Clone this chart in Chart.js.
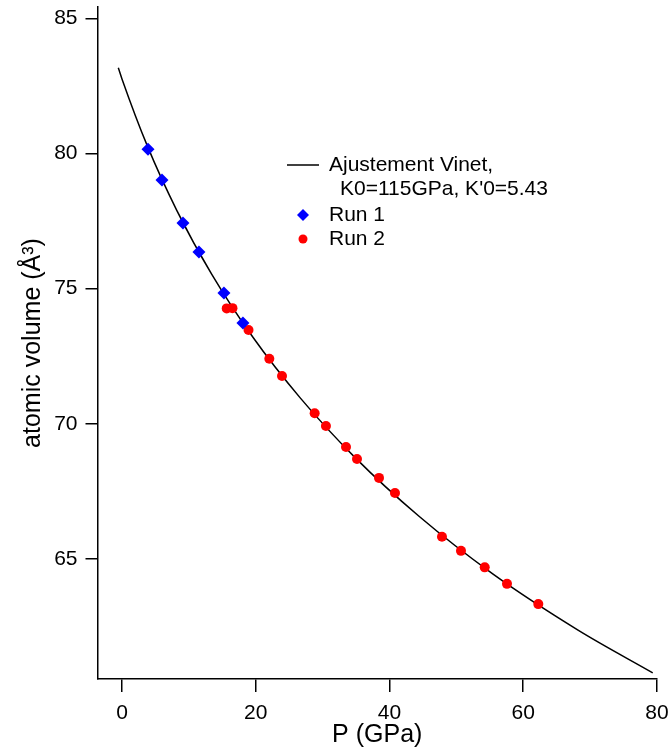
<!DOCTYPE html>
<html lang="fr">
<head>
<meta charset="UTF-8">
<title>Volume atomique en fonction de la pression</title>
<script src="https://cdn.jsdelivr.net/npm/chart.js"></script>
<style>
    body { margin: 0; background: #fff; }
    canvas { display: block; }
</style>
</head>
<body>
<canvas id="eosChart" width="671" height="756"></canvas>
<script>
// Run 1 (blue diamonds)
const run1P = [3.89, 5.98, 9.12, 11.51, 15.25, 18.09];
const run1V = [80.16, 79.02, 77.43, 76.36, 74.84, 73.73];

// Run 2 (red dots)
const run2P = [15.66, 16.52, 18.92, 22.03, 23.93, 28.81, 30.50, 33.50, 35.14, 38.43, 40.82, 47.85, 50.69, 54.24, 57.57, 62.25];
const run2V = [74.27, 74.28, 73.47, 72.41, 71.77, 70.39, 69.92, 69.14, 68.70, 68.00, 67.44, 65.82, 65.30, 64.69, 64.08, 63.33];

// Vinet fit curve
const fitP = [-0.55, 0, 3.76, 8.21, 13.43, 19.53, 26.65, 34.90, 44.46, 55.49, 68.19, 79.36];
const fitV = [83.17, 82.76, 80.30, 77.89, 75.53, 73.22, 70.96, 68.74, 66.57, 64.44, 62.37, 60.79];

const fitLabel = ['Ajustement Vinet,', "K0=115GPa, K'0=5.43"];
const xTitle = 'P (GPa)';
const yTitle = 'atomic volume (Å³)';

const toXY = (xs, ys) => xs.map((x, i) => ({ x: x, y: ys[i] }));

const FONT = 'Arial, "Liberation Sans", Helvetica, sans-serif';
Chart.defaults.font.family = FONT;
Chart.defaults.color = '#000';

// legend drawn inside the plot, like the original
const legendBox = {
    id: 'legendBox',
    afterDraw(chart) {
        const ctx = chart.ctx;
        ctx.save();
        ctx.font = '21px ' + FONT;
        ctx.fillStyle = '#000';
        ctx.textBaseline = 'middle';
        ctx.textAlign = 'left';

        ctx.strokeStyle = '#000';
        ctx.lineWidth = 1.5;
        ctx.beginPath();
        ctx.moveTo(287, 165);
        ctx.lineTo(319, 165);
        ctx.stroke();
        ctx.fillText(fitLabel[0], 329, 165);
        ctx.fillText(fitLabel[1], 340, 189);

        // diamond
        ctx.fillStyle = '#0000ff';
        ctx.beginPath();
        ctx.moveTo(303, 209);
        ctx.lineTo(309, 215);
        ctx.lineTo(303, 221);
        ctx.lineTo(297, 215);
        ctx.closePath();
        ctx.fill();
        ctx.fillStyle = '#000';
        ctx.fillText(chart.data.datasets[0].label, 329, 215);

        // dot
        ctx.fillStyle = '#ff0000';
        ctx.beginPath();
        ctx.arc(303, 239, 4.5, 0, Math.PI * 2);
        ctx.fill();
        ctx.fillStyle = '#000';
        ctx.fillText(chart.data.datasets[1].label, 329, 239);
        ctx.restore();
    }
};

const ctx = document.getElementById('eosChart').getContext('2d');
new Chart(ctx, {
    type: 'scatter',
    data: {
        datasets: [
            {
                label: 'Run 1',
                data: toXY(run1P, run1V),
                pointStyle: 'rectRot',
                pointRadius: 6.5,
                pointBorderWidth: 0,
                backgroundColor: '#0000ff',
                borderColor: '#0000ff'
            },
            {
                label: 'Run 2',
                data: toXY(run2P, run2V),
                pointStyle: 'circle',
                pointRadius: 5,
                pointBorderWidth: 0,
                backgroundColor: '#ff0000',
                borderColor: '#ff0000'
            },
            {
                label: fitLabel.join(' '),
                data: toXY(fitP, fitV),
                showLine: true,
                pointRadius: 0,
                borderColor: '#000',
                borderWidth: 1.5,
                cubicInterpolationMode: 'monotone'
            }
        ]
    },
    options: {
        responsive: false,
        animation: false,
        devicePixelRatio: 1,
        layout: { padding: { left: 0, right: 14, top: 7, bottom: 0 } },
        plugins: {
            legend: { display: false },
            tooltip: { enabled: false }
        },
        scales: {
            x: {
                type: 'linear',
                min: -3.66,
                max: 80,
                afterFit: s => { s.height = 77; s.paddingLeft = 0; s.paddingRight = 0; },
                border: { color: '#000', width: 1.5 },
                grid: { drawOnChartArea: false, drawTicks: true, tickLength: 13, color: '#000', lineWidth: 1.5 },
                ticks: { stepSize: 20, includeBounds: false, padding: 9, maxRotation: 0, font: { size: 21 } },
                title: { display: true, text: xTitle, font: { size: 25 }, padding: { top: 0, bottom: 6 } }
            },
            y: {
                type: 'linear',
                min: 60.56,
                max: 85.42,
                afterFit: s => { s.width = 97.5; s.paddingTop = 0; s.paddingBottom = 0; },
                border: { color: '#000', width: 1.5 },
                grid: { drawOnChartArea: false, drawTicks: true, tickLength: 12, color: '#000', lineWidth: 1.5 },
                ticks: { stepSize: 5, includeBounds: false, padding: 8, font: { size: 21 } },
                title: { display: true, text: yTitle, font: { size: 25 }, padding: { top: 18, bottom: 0 } }
            }
        }
    },
    plugins: [legendBox]
});
</script>
</body>
</html>
